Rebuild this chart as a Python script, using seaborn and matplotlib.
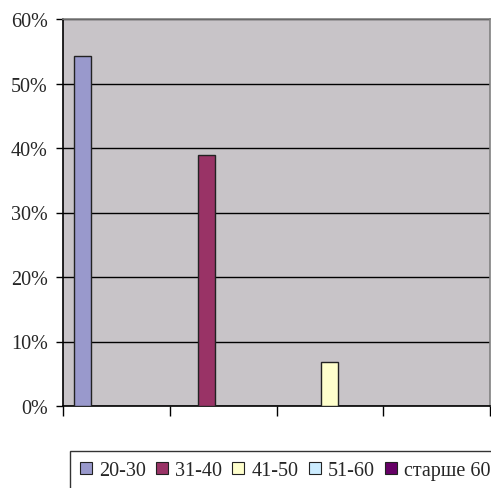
import matplotlib
matplotlib.use("Agg")
import matplotlib.pyplot as plt
from matplotlib.patches import Patch
from matplotlib.ticker import FixedLocator, FuncFormatter
import seaborn as sns
import pandas as pd

# Данные (доля по возрастным группам)
series = ['20-30', '31-40', '41-50', '51-60', 'старше 60']
colors = ['#9999CC', '#993366', '#FFFFCC', '#CCECFF', '#660066']
groups = ['1', '2', '3', '4']
bar_group = ['1', '2', '3']
bar_series = ['20-30', '31-40', '41-50']
bar_values = [54.3, 38.9, 6.8]

df = pd.DataFrame({'grp': bar_group, 'series': bar_series, 'val': bar_values})

sns.set_style('white')
plt.rcParams['font.family'] = ['Liberation Serif', 'DejaVu Serif']

fig = plt.figure(figsize=(4.91, 4.89), dpi=100)
ax = fig.add_axes([63 / 491, 82 / 489, 427 / 491, 387 / 489])
ax.set_facecolor('#C8C4C8')

sns.barplot(data=df, x='grp', y='val', hue='series', order=groups,
            hue_order=series, palette=colors, saturation=1, dodge=True,
            edgecolor='#222222', linewidth=1, legend=False, ax=ax, zorder=3)

ax.set_ylim(0, 60)
ax.set_xlim(-0.5, 3.5)
ax.set_yticks(range(0, 61, 10))
ax.yaxis.set_major_formatter(FuncFormatter(lambda v, p: '%d%%' % v))
ax.yaxis.grid(True, color='black', linewidth=1)
ax.set_axisbelow(True)
ax.tick_params(axis='y', left=True, length=5, width=1, color='black',
               labelsize=14.5, pad=6)

ax.set_xticks([])
ax.xaxis.set_minor_locator(FixedLocator([-0.5, 0.5, 1.5, 2.5, 3.5]))
ax.tick_params(axis='x', which='minor', bottom=True, length=7, width=1,
               color='black')
ax.set_xlabel('')
ax.set_ylabel('')

for s in ['left', 'bottom']:
    ax.spines[s].set_color('black')
    ax.spines[s].set_linewidth(1.2)
for s in ['top', 'right']:
    ax.spines[s].set_color('#808080')
    ax.spines[s].set_linewidth(1.2)

handles = [Patch(facecolor=c, edgecolor='#222222', linewidth=0.8) for c in colors]
fig.legend(handles, series, loc='upper left', bbox_to_anchor=(70 / 491, 1 - 452 / 489),
           ncol=5, frameon=True, fancybox=False, edgecolor='black',
           fontsize=14.5, handlelength=0.6, handleheight=0.6,
           handletextpad=0.35, columnspacing=0.5, borderpad=0.5,
           borderaxespad=0)

fig.savefig('out.png', dpi=100)
